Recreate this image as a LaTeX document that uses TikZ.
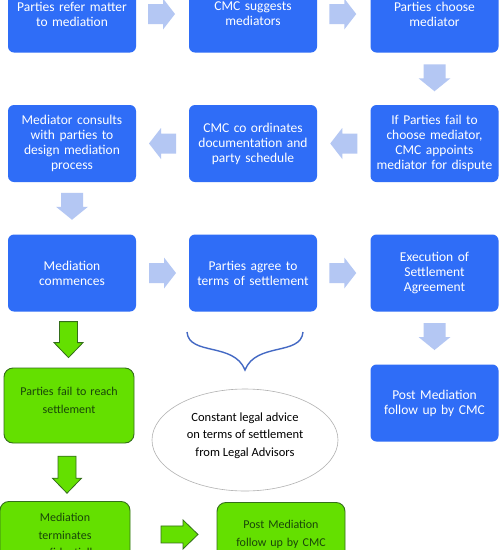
\documentclass[tikz,border=0pt]{standalone}
\usepackage{fontspec}
\setmainfont{Carlito}
\usetikzlibrary{shapes.geometric,calc}
\definecolor{cmcblue}{RGB}{47,109,247}
\definecolor{lightarr}{RGB}{180,199,243}
\definecolor{lime}{RGB}{100,224,0}
\definecolor{darkgreen}{RGB}{52,110,26}
\definecolor{greentext}{RGB}{25,70,10}
\definecolor{bracecol}{RGB}{68,105,196}
\newcommand\blockarr[7]{% center, rotation, style, length, head width, shaft width, head length
  \begin{scope}[shift={#1}, rotate=#2]
    \path[#3] ({-#4/2},{-#6/2}) -- ({#4/2-#7},{-#6/2}) -- ({#4/2-#7},{-#5/2}) -- ({#4/2},0)
      -- ({#4/2-#7},{#5/2}) -- ({#4/2-#7},{#6/2}) -- ({-#4/2},{#6/2}) -- cycle;
  \end{scope}}
\tikzset{
  bluebox/.style={rectangle, rounded corners=6pt, fill=cmcblue, text=white,
    minimum width=128pt, minimum height=77pt, text width=126pt, align=center,
    inner sep=0pt, font=\fontsize{13.5}{15}\selectfont},
  greenbox/.style={rectangle, rounded corners=9pt, fill=lime, draw=darkgreen, line width=0.9pt,
    text=greentext, minimum width=130pt, minimum height=75pt, text width=126pt, align=center,
    inner sep=0pt, font=\fontsize{12}{17.5}\selectfont},
  lightarrow/.style={fill=lightarr},
  greenarrow/.style={fill=lime, draw=darkgreen, line width=0.8pt, line join=miter},
}
\begin{document}
\begin{tikzpicture}[x=1pt,y=-1pt]
\useasboundingbox[fill=white] (0,0) rectangle (500,550);
\begin{scope}
\clip (0,0) rectangle (500,550);
% row 1
\node[bluebox] (n1) at (72,14) {Parties refer matter\\to mediation};
\node[bluebox] (n2) at (253,14) {CMC suggests\\mediators};
\node[bluebox] (n3) at (434.5,14) {Parties choose\\mediator};
% row 2
\node[bluebox] (n4) at (434.5,143.5) {If Parties fail to\\choose mediator,\\CMC appoints\\mediator for dispute};
\node[bluebox] (n5) at (253,143.5) {CMC co ordinates\\documentation and\\party schedule};
\node[bluebox] (n6) at (72,143.5) {Mediator consults\\with parties to\\design mediation\\process};
% row 3
\node[bluebox] (n7) at (72,273) {Mediation\\commences};
\node[bluebox] (n8) at (253,273) {Parties agree to\\terms of settlement};
\node[bluebox] (n9) at (434.5,273) {Execution of\\Settlement\\Agreement};
% row 4
\node[bluebox] (n10) at (434.5,403) {Post Mediation\\follow up by CMC};
% green boxes
\node[greenbox] (g1) at (69,405.5) {\raisebox{5pt}[\height][\depth]{\parbox{126pt}{\centering Parties fail to reach\\settlement}}};
\node[greenbox, anchor=north] (g2) at (65,501) {\\[-15pt]Mediation\\terminates\\confidentially};
\node[greenbox, anchor=north, minimum width=128pt] (g3) at (281,502) {\\[-20pt]Post Mediation\\follow up by CMC\\[16pt]};
% ellipse
\node[ellipse, draw=black!30, line width=0.6pt, minimum width=186pt, minimum height=102pt,
  align=center, inner sep=0pt, font=\fontsize{12.5}{17.5}\selectfont] (e) at (245,440)
  {\makebox[0pt]{\raisebox{4.5pt}[\height][\depth]{\parbox{160pt}{\centering Constant legal advice\\on terms of settlement\\from Legal Advisors}}}};
% light arrows
\blockarr{($(n1.east)!0.5!(n2.west)+(-1,0)$)}{0}{lightarrow}{27}{31}{20}{12}
\blockarr{($(n2.east)!0.5!(n3.west)+(-1,0)$)}{0}{lightarrow}{27}{31}{20}{12}
\blockarr{($(n3.south)!0.5!(n4.north)+(0,-1)$)}{-90}{lightarrow}{27}{32}{22}{13}
\blockarr{($(n4.west)!0.5!(n5.east)$)}{180}{lightarrow}{27}{31}{20}{12}
\blockarr{($(n5.west)!0.5!(n6.east)$)}{180}{lightarrow}{27}{31}{20}{12}
\blockarr{($(n6.south)!0.5!(n7.north)+(0,-2)$)}{-90}{lightarrow}{27}{32}{22}{13}
\blockarr{($(n7.east)!0.5!(n8.west)$)}{0}{lightarrow}{27}{31}{20}{12}
\blockarr{($(n8.east)!0.5!(n9.west)+(-1,0)$)}{0}{lightarrow}{27}{31}{20}{12}
\blockarr{($(n9.south)!0.5!(n10.north)+(0,-1.5)$)}{-90}{lightarrow}{27}{32}{22}{13}
% green arrows
\blockarr{($(n7.south)!0.5!(g1.north)+(-2,0)$)}{-90}{greenarrow}{36}{29}{18}{15}
\blockarr{($(g1.south)!0.5!(g2.north)+(0,2.5)$)}{-90}{greenarrow}{37}{29}{18}{15}
\blockarr{($(g2.east)!0.5!(g3.west)+(6,-5)$)}{0}{greenarrow}{37}{29}{17}{15}
% brace
\coordinate (bl) at (187,332);
\coordinate (br) at (303,332);
\coordinate (bt) at (245,370);
\draw[bracecol, line width=1.4pt] (bl) .. controls (189,356) and (234,342) .. (bt)
  .. controls (256,342) and (301,356) .. (br);
\end{scope}
\end{tikzpicture}
\end{document}
